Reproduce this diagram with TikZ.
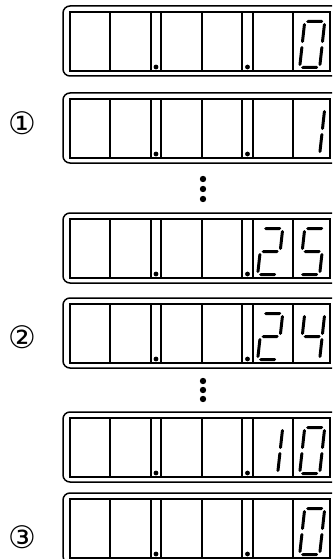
\documentclass[tikz,border=0pt]{standalone}
\usepackage{fontspec}
\newfontfamily\circfont{DejaVu Sans}
\tikzset{
  outerframe/.style={line width=1.5pt, rounded corners=7pt},
  innerframe/.style={line width=1.5pt},
  divider/.style={line width=1.3pt},
  segfill/.style={fill=black},
  circnum/.style={font=\circfont\fontsize{31}{31}\selectfont, inner sep=0pt},
}
% segment geometry, local coordinates (u right, v up), width 23, height 49
\newcommand\hsegm[3]{\fill[segfill] (#2,#1) -- ({#2+1.5},{#1+1.5}) -- ({#3-1.5},{#1+1.5}) -- (#3,#1) -- ({#3-1.5},{#1-1.5}) -- ({#2+1.5},{#1-1.5}) -- cycle;}
\newcommand\vsegm[3]{\fill[segfill] (#1,#2) -- ({#1+1.5},{#2+1.5}) -- ({#1+1.5},{#3-1.5}) -- (#1,#3) -- ({#1-1.5},{#3-1.5}) -- ({#1-1.5},{#2+1.5}) -- cycle;}
\newcommand\sgA{\hsegm{47.5}{3}{20}}
\newcommand\sgB{\vsegm{21.5}{26}{46}}
\newcommand\sgC{\vsegm{21.5}{3}{23}}
\newcommand\sgD{\hsegm{1.5}{3}{20}}
\newcommand\sgE{\vsegm{1.5}{3}{23}}
\newcommand\sgF{\vsegm{1.5}{26}{46}}
\newcommand\sgG{\hsegm{24.5}{3}{20}}
\newcommand\dzero{\sgA\sgB\sgC\sgD\sgE\sgF}
\newcommand\done{\sgB\sgC}
\newcommand\dtwo{\sgA\sgB\sgG\sgE\sgD}
\newcommand\dfour{\sgF\sgG\sgB\sgC}
\newcommand\dfive{\sgA\sgF\sgG\sgC\sgD}
% digit: #1 = cell (0 = left digit cell, 1 = right digit cell), #2 = display top, #3 = segments
\newcommand\lcddigit[3]{%
  \begin{scope}[shift={({256+42*#1},{#2+63})}, x={(1pt,0pt)}, y={(0.11pt,1pt)}]
    #3
  \end{scope}}
% display frame: #1 = top y
\newcommand\lcdframe[1]{%
  \draw[outerframe] (63,#1) rectangle (340,{#1+70});
  \draw[innerframe] (70,{#1+6}) rectangle (330,{#1+65});
  \foreach \xx in {110,151,161,202,242,253,293}
    \draw[divider] (\xx,{#1+6}) -- (\xx,{#1+65});
  \fill (156,{#1+61}) circle[radius=2.4pt];
  \fill (247.5,{#1+61}) circle[radius=2.4pt];}
\begin{document}
\begin{tikzpicture}[x=1pt,y=-1pt]
  \useasboundingbox (0,0) rectangle (332,559);
  \clip (0,0) rectangle (332,559);
  % display 1: 0
  \lcdframe{6}
  \lcddigit{1}{6}{\dzero}
  % display 2: 1
  \lcdframe{93}
  \lcddigit{1}{93}{\done}
  % vertical ellipsis
  \foreach \yy in {179,189,199} \fill (203,\yy) circle[radius=3.2pt];
  % display 3: 25
  \lcdframe{213}
  \lcddigit{0}{213}{\dtwo}
  \lcddigit{1}{213}{\dfive}
  % display 4: 24
  \lcdframe{298}
  \lcddigit{0}{298}{\dtwo}
  \lcddigit{1}{298}{\dfour}
  % vertical ellipsis
  \foreach \yy in {381,390,399} \fill (203,\yy) circle[radius=3.2pt];
  % display 5: 10
  \lcdframe{412}
  \lcddigit{0}{412}{\done}
  \lcddigit{1}{412}{\dzero}
  % display 6: 0
  \lcdframe{493}
  \lcddigit{1}{493}{\dzero}
  % step labels
  \node[circnum] (n1) at (22,123) {①};
  \node[circnum] (n2) at (22,337) {②};
  \node[circnum] (n3) at (22,537) {③};
\end{tikzpicture}
\end{document}
